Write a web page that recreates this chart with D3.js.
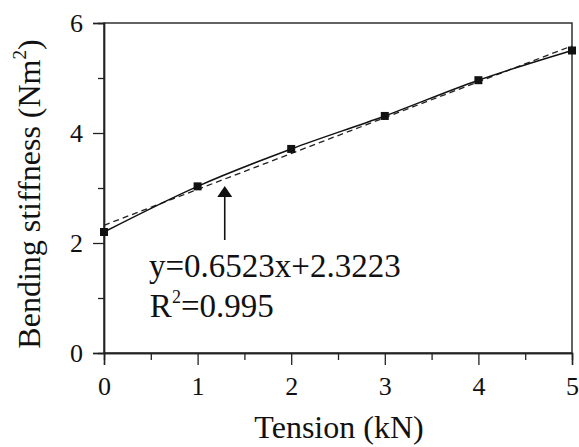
<!DOCTYPE html>
<html>
<head>
<meta charset="utf-8">
<script src="https://cdn.jsdelivr.net/npm/d3@7"></script>
<style>
  html, body { margin: 0; padding: 0; background: #fff; }
  svg { display: block; }
  svg text { font-family: "Liberation Serif", "Times New Roman", serif; fill: #111; }
</style>
</head>
<body>
<script>
// Measured bending stiffness at each tension level
const tension = [0, 1, 2, 3, 4, 5];
const stiffness = [2.20, 3.03, 3.71, 4.31, 4.96, 5.50];

// Linear fit reported on the chart
const fitSlope = 0.6523;
const fitIntercept = 2.3223;
const fitR2 = 0.995;

const xMajorTicks = [0, 1, 2, 3, 4, 5];
const xMinorTicks = [0.5, 1.5, 2.5, 3.5, 4.5];
const yMajorTicks = [0, 2, 4, 6];
const yMinorTicks = [1, 3, 5];

const W = 579, H = 447;
const margin = { top: 23, right: 7, bottom: 94, left: 104 };
const iw = W - margin.left - margin.right;
const ih = H - margin.top - margin.bottom;
const serif = '"Liberation Serif", "Times New Roman", serif';
const tickFont = 26;

const svg = d3.select("body").append("svg").attr("width", W).attr("height", H);
const g = svg.append("g").attr("transform", `translate(${margin.left},${margin.top})`);

const x = d3.scaleLinear().domain([0, 5]).range([0, iw]);
const y = d3.scaleLinear().domain([0, 6]).range([ih, 0]);

// Plot frame
g.append("rect").attr("x", 0).attr("y", 0).attr("width", iw).attr("height", ih)
  .attr("fill", "none").attr("stroke", "#222").attr("stroke-width", 1.4);

// Axes with major and minor outward ticks
function styleAxis(sel) {
  sel.attr("font-family", serif).attr("font-size", tickFont);
  sel.select(".domain").attr("stroke", "#222").attr("stroke-width", 1.4);
  sel.selectAll(".tick line").attr("stroke", "#222").attr("stroke-width", 1.3);
  sel.selectAll(".tick text")
    .style("font-family", serif).style("font-size", tickFont + "px").attr("fill", "#111");
}

g.append("g").attr("transform", `translate(0,${ih})`)
  .call(d3.axisBottom(x).tickValues(xMinorTicks).tickSize(7).tickFormat(""))
  .call(styleAxis);
g.append("g").attr("transform", `translate(0,${ih})`)
  .call(d3.axisBottom(x).tickValues(xMajorTicks).tickSize(12).tickPadding(12).tickFormat(d3.format("d")))
  .call(styleAxis);

g.append("g")
  .call(d3.axisLeft(y).tickValues(yMinorTicks).tickSize(6).tickFormat(""))
  .call(styleAxis);
g.append("g")
  .call(d3.axisLeft(y).tickValues(yMajorTicks).tickSize(11).tickPadding(10).tickFormat(d3.format("d")))
  .call(styleAxis);

// Fitted straight line (dashed)
const fit = [xMajorTicks[0], xMajorTicks[xMajorTicks.length - 1]]
  .map(t => [t, fitIntercept + fitSlope * t]);
g.append("path")
  .datum(fit)
  .attr("fill", "none").attr("stroke", "#222").attr("stroke-width", 1.3)
  .attr("stroke-dasharray", "6,4")
  .attr("d", d3.line().x(d => x(d[0])).y(d => y(d[1])));

// Measured trend (solid curve through points)
const pts = tension.map((t, i) => [t, stiffness[i]]);
g.append("path")
  .datum(pts)
  .attr("fill", "none").attr("stroke", "#111").attr("stroke-width", 1.5)
  .attr("d", d3.line().curve(d3.curveMonotoneX).x(d => x(d[0])).y(d => y(d[1])));

// Square markers
const ms = 8;
g.selectAll("rect.pt").data(pts).enter().append("rect")
  .attr("class", "pt")
  .attr("x", d => x(d[0]) - ms / 2).attr("y", d => y(d[1]) - ms / 2)
  .attr("width", ms).attr("height", ms).attr("fill", "#111");

// Arrow pointing to the fit line
const ax = x(1.29);
const tipY = y(fitIntercept + fitSlope * 1.29) + 7;
g.append("line").attr("x1", ax).attr("x2", ax).attr("y1", tipY + 8).attr("y2", tipY + 54)
  .attr("stroke", "#111").attr("stroke-width", 1.6);
g.append("path")
  .attr("d", `M${ax},${tipY} L${ax - 7.5},${tipY + 11} L${ax + 7.5},${tipY + 11} Z`)
  .attr("fill", "#111");

// Fit equation text
g.append("text").attr("x", x(0.48)).attr("y", 254).style("font-size", "33px")
  .text(`y=${fitSlope}x+${fitIntercept}`);
const r2 = g.append("text").attr("x", x(0.49)).attr("y", 294).style("font-size", "33px");
r2.append("tspan").text("R");
r2.append("tspan").attr("dy", -14).style("font-size", "18px").text("2");
r2.append("tspan").attr("dy", 14).text(`=${fitR2}`);

// Axis titles
svg.append("text").attr("x", margin.left + iw / 2 + 1).attr("y", 438)
  .attr("text-anchor", "middle").style("font-size", "32px").text("Tension (kN)");

const yt = svg.append("text").attr("transform", "translate(40,194) rotate(-90)")
  .attr("text-anchor", "middle").style("font-size", "32px");
yt.append("tspan").text("Bending stiffness (Nm");
yt.append("tspan").attr("dy", -14).style("font-size", "19px").text("2");
yt.append("tspan").attr("dy", 14).text(")");
</script>
</body>
</html>
